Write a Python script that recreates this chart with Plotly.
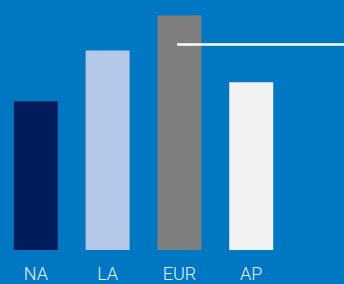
import plotly.graph_objects as go

categories = ["NA", "LA", "EUR", "AP"]
values = [149, 200, 235, 168]
bar_colors = ["#001c5a", "#b3c7e8", "#7f7f7f", "#f2f2f2"]
callout_value = 206

fig = go.Figure(go.Bar(
    x=categories, y=values,
    marker=dict(color=bar_colors, line=dict(width=0)),
    width=0.613,
))

fig.add_shape(type="line", xref="x", yref="y",
              x0=1.967, x1=4.4, y0=callout_value, y1=callout_value,
              line=dict(color="white", width=2.5))

fig.update_layout(
    width=344, height=284,
    margin=dict(l=0, r=0, t=0, b=34, autoexpand=False),
    paper_bgcolor="#0077c3", plot_bgcolor="#0077c3",
    showlegend=False,
    xaxis=dict(range=[-0.4986, 4.292], showgrid=False, zeroline=False,
               showline=False, ticks="", ticklabelstandoff=11,
               tickfont=dict(family="Roboto", size=18, color="#e6eef7", weight=300)),
    yaxis=dict(range=[0, 250.5], visible=False),
)

fig.write_html("out.html", config={"displayModeBar": False},
               post_script="document.body.style.margin='0';document.body.style.background='#0077c3';")
